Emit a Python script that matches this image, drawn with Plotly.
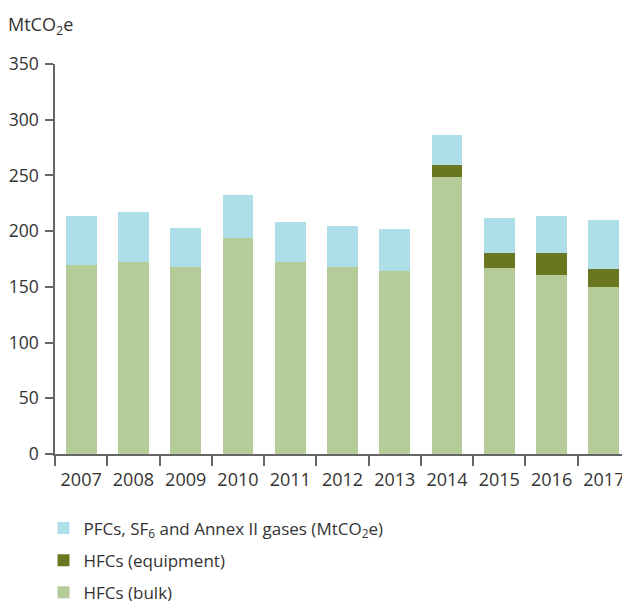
import plotly.graph_objects as go

years = ["2007", "2008", "2009", "2010", "2011", "2012", "2013", "2014", "2015", "2016", "2017"]
hfc_bulk = [170, 172, 168, 193.5, 172, 168, 164.5, 248.5, 166.5, 161, 150]
hfc_equipment = [None, None, None, None, None, None, None, 10.5, 14, 19.5, 16]
pfc_sf6_annex = [44, 45.5, 35, 38.5, 36.5, 37, 37, 27.5, 31.5, 33.5, 44]

names = ["HFCs (bulk)", "HFCs (equipment)", "PFCs, SF<sub>6</sub> and Annex II gases (MtCO<sub>2</sub>e)"]
colors = ["#b5cc98", "#6b7720", "#aedfe8"]
ranks = [3, 2, 1]
series = [hfc_bulk, hfc_equipment, pfc_sf6_annex]

font = "Open Sans, Noto Sans, sans-serif"
fig = go.Figure()
for i, (n, c, s, r) in enumerate(zip(names, colors, series, ranks)):
    fig.add_trace(go.Bar(x=years, y=s, name=n, marker=dict(color=c, line=dict(width=0)),
                         legendgroup=f"g{i}", legendrank=r))

# page body has an 8px default margin, so the figure is 8px smaller and offset
fig.update_layout(
    barmode="stack",
    bargap=0.41,
    width=622, height=593,
    margin=dict(l=47, r=0, t=56, b=147, autoexpand=False),
    paper_bgcolor="white", plot_bgcolor="white",
    font=dict(family=font, size=18, color="#333333"),
    title=dict(text="MtCO<sub>2</sub>e", x=0, xanchor="left", xref="container",
               y=1-17/593, yanchor="middle", yref="container",
               font=dict(family=font, size=18, color="#333333")),
    showlegend=True,
    legend=dict(x=-0.02, xanchor="left", y=-0.145, yanchor="top", orientation="v",
                traceorder="grouped", tracegroupgap=7,
                font=dict(family=font, size=17, color="#333333"),
                bgcolor="rgba(0,0,0,0)"),
    xaxis=dict(showline=True, linecolor="#666666", linewidth=1.5, automargin=False,
               ticks="outside", tickson="boundaries", ticklen=10, tickcolor="#666666",
               tickwidth=1.5, showgrid=False, tickfont=dict(size=18), ticklabelstandoff=9),
    yaxis=dict(range=[0, 350], tickvals=[0, 50, 100, 150, 200, 250, 300, 350],
               showline=True, linecolor="#666666", linewidth=1.5, automargin=False,
               ticks="outside", ticklen=8, tickcolor="#666666", tickwidth=1.5,
               showgrid=False, zeroline=False, tickfont=dict(size=17.5), ticklabelstandoff=3),
)

fig.write_html("out.html")
